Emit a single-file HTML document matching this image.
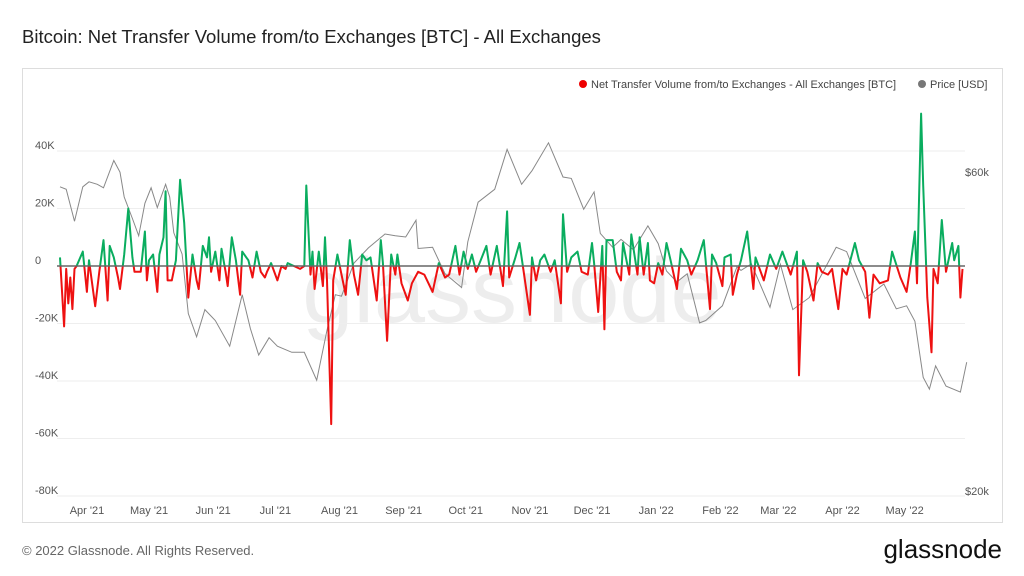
<!DOCTYPE html>
<html><head><meta charset="utf-8">
<style>
body{margin:0;background:#fff;font-family:"Liberation Sans",sans-serif;}
#wrap{position:relative;width:1024px;height:576px;overflow:hidden;}
</style></head>
<body>
<div id="wrap">
<svg id="chart" width="1024" height="576" xmlns="http://www.w3.org/2000/svg">
  <text x="22" y="43" font-size="18.5" fill="#222">Bitcoin: Net Transfer Volume from/to Exchanges [BTC] - All Exchanges</text>
  <rect x="22.5" y="68.5" width="980" height="454" fill="none" stroke="#ddd"/>
  <text x="512" y="322" font-size="92" fill="#ededed" text-anchor="middle">glassnode</text>
  <g id="grid"></g>
  <g id="yleft"></g>
  <g id="yright"></g>
  <g id="xaxis"></g>
  <g id="series"></g>
  <g>
    <g>
      <circle cx="583" cy="84" r="4" fill="#ee0000"/>
      <text x="591" y="88" font-size="11" fill="#444">Net Transfer Volume from/to Exchanges - All Exchanges [BTC]</text>
    </g>
    <g>
      <circle cx="922" cy="84" r="4" fill="#777"/>
      <text x="930" y="88" font-size="11" fill="#444">Price [USD]</text>
    </g>
  </g>
  <text x="22" y="555" font-size="13" fill="#666">© 2022 Glassnode. All Rights Reserved.</text>
  <text x="1002" y="558" font-size="26" fill="#111" text-anchor="end">glassnode</text>
</svg>
</div>
<script>
const netDays=[0,2,3,4,5,6,7,8,11,13,14,17,19,21,23,24,26,28,29,31,33,35,36,39,41,42,43,45,47,48,50,51,52,54,56,58,60,62,64,66,67,69,71,72,73,75,77,78,80,81,83,85,87,88,90,91,93,95,97,99,100,102,105,107,109,110,113,116,118,119,121,122,123,125,127,128,129,131,132,134,136,138,140,141,142,144,146,148,150,153,155,156,158,160,162,163,165,168,170,173,176,180,183,186,188,191,193,195,197,199,201,206,208,211,214,216,217,220,222,224,227,228,230,232,234,237,239,242,243,245,247,250,252,255,257,258,260,262,263,264,267,269,271,272,275,276,279,280,282,284,285,287,289,291,293,295,298,300,303,305,308,311,314,315,317,320,321,324,325,327,329,332,335,336,340,343,346,349,353,356,357,359,361,364,366,368,371,373,376,378,380,384,386,389,391,393,396,400,402,406,409,411,413,414,416,417,419,421,422,424,426,428,431,432,434,435,436];
const netValues=[3,-21,-1,-13,-4,-15,-1,0,5,-9,2,-14,-2,9,-12,7,3,-4,-8,4,20,3,-2,-2,12,-5,2,4,-9,4,10,26,-5,-5,2,30,15,-11,4,-5,-8,7,3,10,-2,5,-5,6,-2,-7,10,2,-10,5,3,2,-4,5,-2,-4,-2,1,-5,0,-1,1,0,-1,0,28,-3,5,-8,5,-7,10,-5,-55,-5,4,-3,-10,9,3,-3,-10,4,2,3,-12,9,1,-26,4,-3,4,-6,-12,-6,-2,-3,-9,1,-4,-3,7,-3,5,-1,4,-2,7,-3,7,-7,19,-4,3,8,-2,-17,3,-5,2,4,-2,2,-13,18,-2,3,5,-2,-3,8,1,-16,7,-22,9,9,-2,-5,8,-3,11,-3,10,-3,8,-5,-6,1,-3,8,2,-8,6,2,-3,2,9,-15,4,1,-7,3,4,-10,-3,2,12,-8,3,-5,4,-1,5,-3,5,-38,2,-2,-12,1,-2,-3,-1,-15,-1,-3,8,2,-2,-18,-3,-6,-5,5,-4,-9,1,12,-6,53,28,-11,-30,-1,-6,16,-2,8,2,7,-11,-1];
const priceDates=["2021-03-18","2021-03-21","2021-03-25","2021-03-29","2021-04-01","2021-04-05","2021-04-08","2021-04-13","2021-04-16","2021-04-18","2021-04-22","2021-04-25","2021-04-28","2021-05-01","2021-05-04","2021-05-08","2021-05-10","2021-05-12","2021-05-16","2021-05-19","2021-05-23","2021-05-27","2021-06-01","2021-06-08","2021-06-14","2021-06-18","2021-06-22","2021-06-27","2021-07-01","2021-07-08","2021-07-14","2021-07-20","2021-07-25","2021-07-29","2021-08-01","2021-08-07","2021-08-14","2021-08-22","2021-08-27","2021-09-01","2021-09-06","2021-09-07","2021-09-14","2021-09-20","2021-09-28","2021-10-01","2021-10-06","2021-10-14","2021-10-20","2021-10-27","2021-11-01","2021-11-09","2021-11-16","2021-11-20","2021-11-26","2021-12-01","2021-12-04","2021-12-10","2021-12-14","2021-12-20","2021-12-27","2022-01-01","2022-01-05","2022-01-10","2022-01-15","2022-01-21","2022-01-24","2022-02-01","2022-02-08","2022-02-10","2022-02-15","2022-02-24","2022-03-01","2022-03-07","2022-03-15","2022-03-28","2022-04-02","2022-04-11","2022-04-20","2022-04-26","2022-05-01","2022-05-05","2022-05-09","2022-05-12","2022-05-15","2022-05-20","2022-05-27","2022-05-30"];
const priceValues=[58000,57500,51500,58000,59000,58500,57800,63500,61000,56000,52000,49000,54800,57800,54000,58500,56000,49500,46000,37500,34600,38000,36600,33500,40000,35600,32500,34500,33500,32800,32800,29800,35400,40000,39800,44600,47000,49300,49000,48800,51700,46900,47100,43000,41000,48000,55000,57500,66000,58500,61300,67500,60000,59700,53700,57000,49400,47100,48400,46700,50700,47700,43400,41800,43000,36300,36600,38500,44000,43500,44500,38300,44400,38000,39600,47100,46400,39500,41500,38100,38500,36500,30100,28900,31300,29200,28600,31700];
const leftTicks=[40000,20000,0,-20000,-40000,-60000,-80000];
const leftTickLabels=["40K","20K","0","-20K","-40K","-60K","-80K"];
const rightTicks=[60000,20000];
const rightTickLabels=["$60k","$20k"];
const monthTicks=["2021-04-01","2021-05-01","2021-06-01","2021-07-01","2021-08-01","2021-09-01","2021-10-01","2021-11-01","2021-12-01","2022-01-01","2022-02-01","2022-03-01","2022-04-01","2022-05-01"];
const monthLabels=["Apr '21","May '21","Jun '21","Jul '21","Aug '21","Sep '21","Oct '21","Nov '21","Dec '21","Jan '22","Feb '22","Mar '22","Apr '22","May '22"];

const NS="http://www.w3.org/2000/svg";
const t0=Date.UTC(2021,2,18);
function dayOf(s){const p=s.split('-');return (Date.UTC(+p[0],+p[1]-1,+p[2])-t0)/86400000;}
function x(d){return 60+d*2.07;}
function yL(v){return 266-v*(57.5/20000);}
function yR(p){return 496-Math.log(p/20000)*290.4;}
function mk(tag,attrs,parent){const e=document.createElementNS(NS,tag);for(const k in attrs)e.setAttribute(k,attrs[k]);parent.appendChild(e);return e;}

const grid=document.getElementById('grid'),yl=document.getElementById('yleft'),yr=document.getElementById('yright'),xa=document.getElementById('xaxis'),ser=document.getElementById('series');
leftTicks.forEach((v,i)=>{
  const g=mk('line',{x1:57,x2:965,y1:yL(v),y2:yL(v),stroke:'#eeeeee','stroke-width':1},grid);
  
  
  const t=mk('text',{x:35,y:yL(v)-2,'font-size':11,fill:'#555'},yl);
  t.textContent=leftTickLabels[i];
  
  
});
rightTicks.forEach((v,i)=>{
  const t=mk('text',{x:965,y:yR(v)-1,'font-size':11,fill:'#555'},yr);
  t.textContent=rightTickLabels[i];
  
  
});
monthTicks.forEach((m,i)=>{
  const t=mk('text',{x:x(dayOf(m))-2,y:514,'font-size':11,fill:'#555','text-anchor':'middle'},xa);
  t.textContent=monthLabels[i];
  
  
});
let pd=priceDates.map((d,i)=>(i?'L':'M')+x(dayOf(d)).toFixed(1)+','+yR(priceValues[i]).toFixed(1)).join('');
const pl=mk('path',{d:pd,fill:'none',stroke:'#888','stroke-width':1},ser);


const defs=mk('defs',{},ser);
const z=yL(0);
const c1=mk('clipPath',{id:'above'},defs);mk('rect',{x:0,y:0,width:1024,height:z},c1);
const c2=mk('clipPath',{id:'below'},defs);mk('rect',{x:0,y:z,width:1024,height:576-z},c2);
let nd=netDays.map((d,i)=>(i?'L':'M')+x(d).toFixed(1)+','+yL(netValues[i]*1000).toFixed(1)).join('');
const ga=mk('path',{d:nd,fill:'none',stroke:'#0aad5f','stroke-width':2,'clip-path':'url(#above)','stroke-linejoin':'round'},ser);


const rb=mk('path',{d:nd,fill:'none',stroke:'#ee1111','stroke-width':2,'clip-path':'url(#below)','stroke-linejoin':'round'},ser);


const zl=mk('line',{x1:57,x2:965,y1:z,y2:z,stroke:'#666','stroke-width':1.5},ser);


</script>
</body></html>
